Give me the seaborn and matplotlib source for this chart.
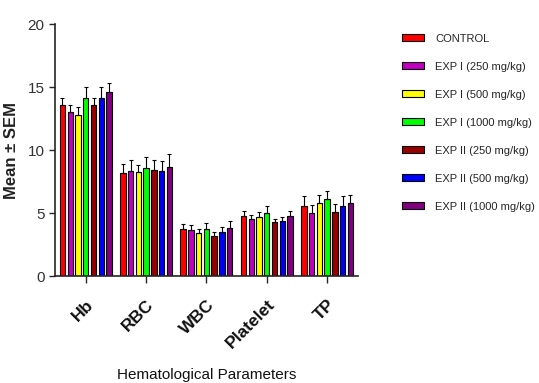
import matplotlib
matplotlib.use("Agg")
import matplotlib.pyplot as plt
import matplotlib.patches as mpatches
import seaborn as sns
import numpy as np
import pandas as pd

params = ["Hb", "RBC", "WBC", "Platelet", "TP"]
groups = ["CONTROL", "EXP I (250 mg/kg)", "EXP I (500 mg/kg)", "EXP I (1000 mg/kg)",
          "EXP II (250 mg/kg)", "EXP II (500 mg/kg)", "EXP II (1000 mg/kg)"]
colors = ["#ff0000", "#c000c0", "#ffff00", "#00ff00", "#990000", "#0000ff", "#800080"]

# means per group (rows) for Hb, RBC, WBC, Platelet, TP
means = [
    [13.55, 8.21, 3.71, 4.77, 5.59],
    [13.03, 8.34, 3.63, 4.56, 4.98],
    [12.82, 8.29, 3.39, 4.66, 5.83],
    [14.17, 8.61, 3.71, 4.98, 6.09],
    [13.56, 8.42, 3.15, 4.29, 5.09],
    [14.17, 8.34, 3.50, 4.37, 5.59],
    [14.60, 8.64, 3.81, 4.77, 5.83],
]
sems = [
    [0.61, 0.69, 0.42, 0.42, 0.77],
    [0.53, 0.85, 0.40, 0.31, 0.69],
    [0.58, 0.56, 0.37, 0.43, 0.61],
    [0.88, 0.87, 0.53, 0.58, 0.69],
    [0.61, 0.80, 0.32, 0.27, 0.63],
    [0.83, 0.77, 0.42, 0.29, 0.77],
    [0.76, 1.06, 0.53, 0.40, 0.58],
]

rows = []
for g, m_row, s_row in zip(groups, means, sems):
    for p, m, s in zip(params, m_row, s_row):
        rows.append({"param": p, "group": g, "mean": m, "sem": s})
df = pd.DataFrame(rows)

sns.set_style("ticks")
plt.rcParams["font.family"] = ["Liberation Sans", "DejaVu Sans"]

fig = plt.figure(figsize=(5.39, 3.83), dpi=100)
ax = fig.add_axes([0.102, 0.279, 0.562, 0.658])

sns.barplot(data=df, x="param", y="mean", hue="group", order=params, hue_order=groups,
            palette=colors, saturation=1, width=0.9, gap=0.3, errorbar=None,
            edgecolor="black", linewidth=0.8, legend=False, ax=ax)

# error bars (upper only) from the bar patches
bars = [b for b in ax.patches if isinstance(b, mpatches.Rectangle)]
for i, g in enumerate(groups):
    sub = df[df["group"] == g].set_index("param").loc[params]
    gb = bars[i * len(params):(i + 1) * len(params)]
    xs = [b.get_x() + b.get_width() / 2 for b in gb]
    ax.errorbar(xs, sub["mean"], yerr=[np.zeros(len(params)), sub["sem"]],
                fmt="none", ecolor="black", elinewidth=0.8, capsize=1.5, capthick=0.8)

ax.set_ylim(0, 20)
ax.set_xlim(-0.51, 4.51)
ax.set_yticks([0, 5, 10, 15, 20])
ax.tick_params(axis="y", labelsize=11, labelcolor="#333333", length=4, width=1)
ax.tick_params(axis="x", labelsize=12.5, length=5, width=1, pad=10)
for lab in ax.get_xticklabels():
    lab.set_rotation(45)
    lab.set_ha("right")
    lab.set_rotation_mode("anchor")
    lab.set_fontweight("bold")
    lab.set_color("#111111")
ax.set_ylabel("Mean ± SEM", fontsize=12, fontweight="bold", color="#222222", labelpad=6)
ax.set_xlabel("Hematological Parameters", fontsize=11, labelpad=12, color="#111111")
sns.despine(ax=ax)
for sp in ax.spines.values():
    sp.set_linewidth(1.2)

handles = [mpatches.Patch(facecolor=c, edgecolor="black", linewidth=0.8, label=g)
           for c, g in zip(colors, groups)]
fig.legend(handles=handles, loc="upper left", bbox_to_anchor=(0.735, 0.927),
           frameon=False, fontsize=8, handlelength=2.0, handleheight=0.5,
           labelspacing=1.62, handletextpad=1.0, borderpad=0)

fig.savefig("out.png", dpi=100)
